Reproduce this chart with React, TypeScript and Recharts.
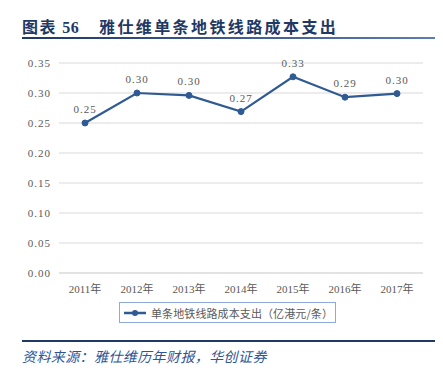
import { LineChart, Line, XAxis, YAxis, CartesianGrid, LabelList } from "recharts"

const years = ["2011年", "2012年", "2013年", "2014年", "2015年", "2016年", "2017年"]
const cost = [0.25, 0.3, 0.296, 0.269, 0.327, 0.293, 0.299]
const yTicks = [0, 0.05, 0.1, 0.15, 0.2, 0.25, 0.3, 0.35]
const seriesName = "单条地铁线路成本支出（亿港元/条）"

const data = years.map((y, i) => ({ year: y, cost: cost[i] }))

const navy = "#1F3864"
const lineBlue = "#2F5A94"
const tickFont = "'Liberation Serif', 'Noto Sans CJK SC', serif"

const LegendBox = () => (
  <div style={{ position: "absolute", left: 119, top: 302, width: 217, height: 21, display: "flex", alignItems: "center", border: "1px solid #8EA9DB", padding: "0 0 0 3px", boxSizing: "border-box" }}>
    <svg width={24} height={10}>
      <line x1={1} y1={5} x2={23} y2={5} stroke={lineBlue} strokeWidth={2.5} />
      <circle cx={12} cy={5} r={3} fill={lineBlue} />
    </svg>
    <span style={{ marginLeft: 4, fontSize: 11, color: "#595959", fontFamily: "'Noto Sans CJK SC', sans-serif", letterSpacing: 0.1, whiteSpace: "nowrap" }}>{seriesName}</span>
  </div>
)

export default function App() {
  return (
    <div style={{ position: "fixed", left: 0, top: 0, width: 443, height: 376, background: "#fff", overflow: "hidden" }}>
      <div style={{ position: "absolute", left: 22, top: 16, fontSize: 16, fontWeight: 700, color: navy, fontFamily: "'Noto Sans CJK SC', sans-serif", lineHeight: "20px", letterSpacing: 1.5 }}>
        图表 <span style={{ fontFamily: "'Liberation Serif', serif", letterSpacing: 0.5 }}>56</span>
      </div>
      <div style={{ position: "absolute", left: 99, top: 16, fontSize: 16, fontWeight: 700, color: navy, fontFamily: "'Noto Sans CJK SC', sans-serif", lineHeight: "20px", letterSpacing: 2.4 }}>
        雅仕维单条地铁线路成本支出
      </div>
      <div style={{ position: "absolute", left: 22, top: 37, width: 413, height: 2, background: "linear-gradient(to right, #1F3864, #5B7DB1)" }} />

      <div style={{ position: "absolute", left: 0, top: 0 }}>
        <LineChart width={443} height={376} data={data} margin={{ top: 63, right: 20, left: 19, bottom: 73 }}>
          <CartesianGrid vertical={false} stroke="#D9D9D9" strokeWidth={1} />
          <XAxis dataKey="year" axisLine={{ stroke: "#D9D9D9" }} tickLine={false} height={30}
            padding={{ left: 26, right: 26 }}
            tick={{ fill: "#595959", fontSize: 11, fontFamily: tickFont }} interval={0} tickMargin={6} />
          <YAxis width={40} domain={[0, 0.35]} ticks={yTicks} axisLine={false} tickLine={false}
            tickFormatter={(v: number) => v.toFixed(2)}
            tick={{ fill: "#595959", fontSize: 11, fontFamily: tickFont, letterSpacing: 1 }} />
          <Line type="linear" dataKey="cost" name={seriesName} stroke={lineBlue} strokeWidth={2.2}
            dot={{ r: 3, fill: lineBlue, stroke: lineBlue, strokeWidth: 1 }} isAnimationActive={false}>
            <LabelList dataKey="cost" position="top" offset={10}
              formatter={(v: number) => v.toFixed(2)}
              style={{ fill: "#595959", fontSize: 11, fontFamily: tickFont, letterSpacing: 1 }} />
          </Line>
        </LineChart>
      </div>
      <LegendBox />

      <div style={{ position: "absolute", left: 22, top: 340, width: 413, height: 1.5, background: navy }} />
      <div style={{ position: "absolute", left: 22, top: 347, fontSize: 14, fontStyle: "italic", color: "#2E5597", fontFamily: "'Noto Sans CJK SC', sans-serif", lineHeight: "18px", letterSpacing: 0.4 }}>
        资料来源：雅仕维历年财报，华创证券
      </div>
    </div>
  )
}
